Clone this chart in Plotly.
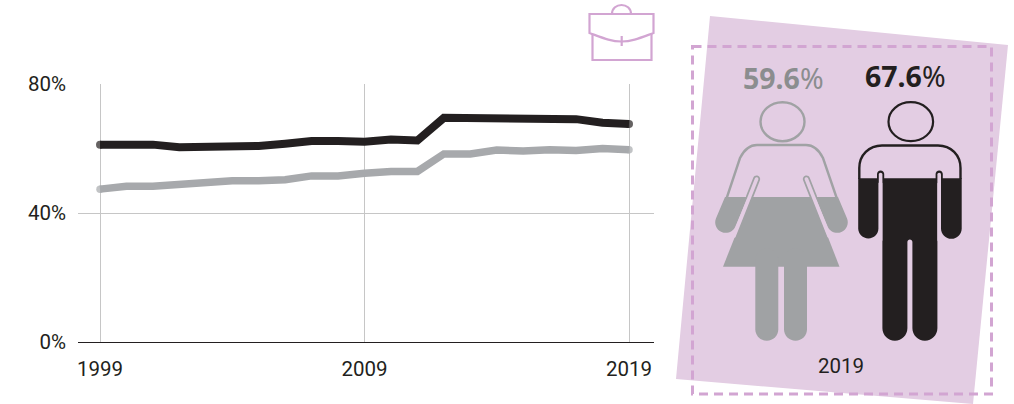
import plotly.graph_objects as go

# ---- data ----
years = list(range(1999, 2020))
men = [61.2, 61.2, 61.2, 60.4, 60.4, 60.8, 60.8, 61.5, 62.3, 62.3, 62.1,
       62.8, 62.5, 69.5, 69.5, 69.6, 69.2, 69.1, 69.1, 68.0, 67.6]
women = [47.4, 48.3, 48.3, 48.9, 49.5, 50.0, 50.0, 50.3, 51.5, 51.5, 52.3,
         52.9, 52.9, 58.3, 58.3, 59.5, 59.2, 59.6, 59.4, 60.0, 59.6]
x_ticks = [1999, 2009, 2019]
y_ticks = [0, 40, 80]
y_labels = ["0%", "40%", "80%"]
women_label = "59.6"
men_label = "67.6"
panel_year = "2019"

# ---- styles ----
BLACK = "#231f20"
GRAY = "#a7a9ac"
PICTO_GRAY = "#a0a2a4"
PANEL = "#e3cde3"
PINK = "#d2a5d2"
GRID = "#c6c6c6"
W, H = 1014, 404

fig = go.Figure()


def end_sizes(n, s):
    return [s] + [0] * (n - 2) + [s]


for vals, col, lw in [(men, BLACK, 8), (women, GRAY, 7.5)]:
    fig.add_trace(go.Scatter(
        x=years, y=vals, mode="lines+markers",
        line=dict(color=col, width=lw),
        marker=dict(color=col, size=end_sizes(len(vals), lw), line=dict(width=0)),
        hoverinfo="skip", showlegend=False, xaxis="x", yaxis="y"))

# invisible trace to instantiate the pixel-space overlay axes
fig.add_trace(go.Scatter(x=[0], y=[0], mode="markers", marker=dict(size=0, opacity=0),
                         hoverinfo="skip", showlegend=False, xaxis="x2", yaxis="y2"))

K = 0.5523


def capsule_end(cx, cy, r, dx, dy):
    nx, ny = -dy, dx
    p0 = (cx + r * nx, cy + r * ny)
    tip = (cx + r * dx, cy + r * dy)
    p1 = (cx - r * nx, cy - r * ny)
    return (f"L{p0[0]:.2f},{p0[1]:.2f} "
            f"C{p0[0] + K * r * dx:.2f},{p0[1] + K * r * dy:.2f} "
            f"{tip[0] + K * r * nx:.2f},{tip[1] + K * r * ny:.2f} {tip[0]:.2f},{tip[1]:.2f} "
            f"C{tip[0] - K * r * nx:.2f},{tip[1] - K * r * ny:.2f} "
            f"{p1[0] + K * r * dx:.2f},{p1[1] + K * r * dy:.2f} {p1[0]:.2f},{p1[1]:.2f} ")


def capsule(x1, y1, x2, y2, r):
    L = ((x2 - x1) ** 2 + (y2 - y1) ** 2) ** 0.5
    dx, dy = (x2 - x1) / L, (y2 - y1) / L
    a = capsule_end(x2, y2, r, dx, dy)
    b = capsule_end(x1, y1, r, -dx, -dy)
    return "M" + a[1:] + b + "Z"


shapes = []


def S(path, fill=None, line=None, width=0, dash=None, layer="above"):
    d = dict(xref="x2", yref="y2", layer=layer, type="path", path=path,
             line=dict(color=line or "rgba(0,0,0,0)", width=width))
    if dash:
        d["line"]["dash"] = dash
    if fill:
        d["fillcolor"] = fill
    shapes.append(d)


def ellipse(cx, cy, rx, ry, col, w):
    shapes.append(dict(type="circle", xref="x2", yref="y2", x0=cx - rx, x1=cx + rx,
                       y0=cy - ry, y1=cy + ry, line=dict(color=col, width=w)))


# panel
S("M710,16 L1008,45 L973,404 L676,379 Z", fill=PANEL, layer="below")
S("M692.5,46.5 L991.5,46.5 L991.5,394 L692.5,394 Z", line=PINK, width=3, dash="9px,6px")

# briefcase
S("M589.5,14 L653.5,14 L653.5,33 C640,38 632,41.5 621.5,41.5 C611,41.5 603,38 589.5,33 Z",
  line=PINK, width=2.2)
S("M592.5,34 L592.5,60 L651.5,60 L651.5,34", line=PINK, width=2.2)
S("M612,14 C612,2 631,2 631,14", line=PINK, width=2.2)
S("M621.7,36 L621.7,46", line=PINK, width=2.2)

# woman
ellipse(782.5, 121.7, 22, 19.5, PICTO_GRAY, 2.4)
S("M726.7,198 L740,158 C744,150 749,145 757,145 L806,145 C814,145 819,150 823,158 L836.7,198",
  line=PICTO_GRAY, width=2.4)
S("M750.7,197 L812.3,197 L839.5,266.7 L723,266.7 Z", fill=PICTO_GRAY)
S("M725,197 " + capsule_end(725.7, 222.3, 10.5, -0.39, 0.92) + "L747.9,197 Z", fill=PICTO_GRAY)
S("M815.1,197 " + capsule_end(837.3, 222.3, 10.5, 0.39, 0.92) + "L838,197 Z", fill=PICTO_GRAY)
S(capsule(766.8, 260, 766.8, 329.2, 11.5), fill=PICTO_GRAY)
S(capsule(795.5, 260, 795.5, 329.2, 11.5), fill=PICTO_GRAY)
S(capsule(756.6, 179, 749.5, 197, 3.6), fill=PICTO_GRAY)
S(capsule(806.4, 179, 813.5, 197, 3.6), fill=PICTO_GRAY)
S(capsule(756.6, 179, 734, 236, 1.8), fill=PANEL)
S(capsule(806.4, 179, 829, 236, 1.8), fill=PANEL)

# man
ellipse(910.8, 121.7, 22.3, 19.5, BLACK, 2.2)
S("M859.3,179 L859.3,168 C859.3,155 869,145.5 882,145.5 L938,145.5 C951,145.5 960.5,155 960.5,168 L960.5,179",
  line=BLACK, width=2.4)
S("M858.2,178.3 " + capsule_end(868.35, 228.3, 10.15, 0, 1) + "L878.5,178.3 Z", fill=BLACK)
S("M941,178.3 " + capsule_end(951.35, 228.5, 10.35, 0, 1) + "L961.7,178.3 Z", fill=BLACK)
S("M882.4,178.3 L937.4,178.3 L937.4,328.2 "
  "C937.4,335.1 931.8,340.7 924.9,340.7 C918,340.7 912.4,335.1 912.4,328.2 "
  "L912.4,242 C912.4,238.5 907.4,238.5 907.4,242 L907.4,328.2 "
  "C907.4,335.1 901.8,340.7 894.9,340.7 C888,340.7 882.4,335.1 882.4,328.2 Z", fill=BLACK)
S(capsule(880.6, 174, 880.6, 180, 3.6), fill=BLACK)
S(capsule(939.2, 174, 939.2, 180, 3.6), fill=BLACK)
S(capsule(880.6, 174.5, 880.6, 240, 1.8), fill=PANEL)
S(capsule(939.2, 174.5, 939.2, 240, 1.8), fill=PANEL)

annotations = [
    dict(text=f"<b>{women_label}</b>%", x=783, y=77.5, xref="x2", yref="y2", showarrow=False,
         font=dict(family="Noto Sans", size=28.5, color="#8b8d8f")),
    dict(text=f"<b>{men_label}</b>%", x=905.5, y=75.5, xref="x2", yref="y2", showarrow=False,
         font=dict(family="Noto Sans", size=28.5, color=BLACK)),
    dict(text=panel_year, x=841, y=366, xref="x2", yref="y2", showarrow=False,
         font=dict(family="Roboto", size=20.5, color=BLACK)),
]

PX_PER_YEAR = 26.45
fig.update_layout(
    width=W, height=H, autosize=False,
    margin=dict(l=0, r=0, t=0, b=0, pad=0, autoexpand=False),
    paper_bgcolor="white", plot_bgcolor="rgba(0,0,0,0)",
    showlegend=False,
    xaxis=dict(domain=[78 / W, 654 / W],
               range=[1999 - 22 / PX_PER_YEAR, 1999 + 554 / PX_PER_YEAR],
               tickmode="array", tickvals=x_ticks, ticktext=[str(v) for v in x_ticks],
               showgrid=True, gridcolor=GRID, gridwidth=1.3, zeroline=False,
               showline=True, linecolor=BLACK, linewidth=1.2, ticks="", ticklabelstandoff=8,
               tickfont=dict(family="Roboto", size=20.5, color=BLACK), anchor="y"),
    yaxis=dict(domain=[(H - 342) / H, (H - 84) / H], range=[0, 80],
               tickmode="array", tickvals=y_ticks, ticktext=y_labels,
               showgrid=True, gridcolor=GRID, gridwidth=1.3, zeroline=False,
               showline=False, ticks="", ticklabelstandoff=11,
               tickfont=dict(family="Roboto", size=20.5, color=BLACK), anchor="x"),
    xaxis2=dict(domain=[0, 1], range=[0, W], visible=False, anchor="y2", fixedrange=True),
    yaxis2=dict(domain=[0, 1], range=[H, 0], visible=False, anchor="x2", fixedrange=True),
    shapes=shapes,
    annotations=annotations,
)

fig.write_html("out.html", config={"displayModeBar": False},
               post_script="document.body.style.margin='0';document.body.style.overflow='hidden';")
